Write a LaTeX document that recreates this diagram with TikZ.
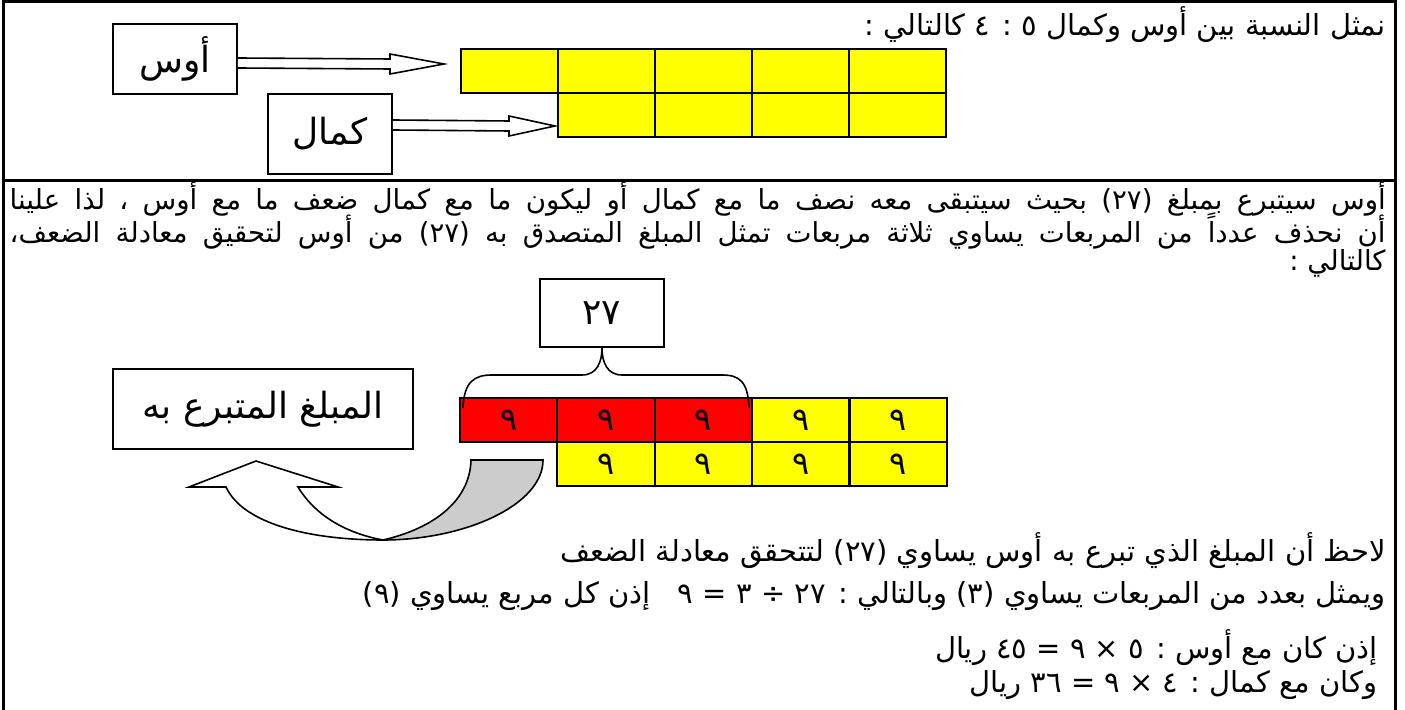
\documentclass[tikz,border=0pt]{standalone}
\usepackage{fontspec}
\usetikzlibrary{calc}
\newfontfamily\arabicfont[Script=Arabic]{DejaVu Sans}
\TeXXeTstate=1
\definecolor{cellyellow}{HTML}{FFFF00}
\definecolor{cellred}{HTML}{FF0000}
\definecolor{bandgray}{HTML}{CCCCCC}
\newcommand{\artxt}[1]{\beginR #1\endR}
% hollow block arrow: start, tip, head length
\newcommand{\hollowarrow}[3]{%
  \draw[hollow] ($(#1)+(0,-5)$) -- ($(#2)+(-#3,-5)$) -- ($(#2)+(-#3,-10)$) -- (#2)
    -- ($(#2)+(-#3,10)$) -- ($(#2)+(-#3,5)$) -- ($(#1)+(0,5)$);}

\begin{document}
\begin{tikzpicture}[x=0.5pt, y=-0.5pt,
    artext/.style={anchor=east, inner sep=0pt, font=\arabicfont\fontsize{14.5}{16}\selectfont},
    paratext/.style={artext, font=\arabicfont\fontsize{13.8}{15}\selectfont},
    namebox/.style={draw, line width=0.8pt, inner sep=0pt, fill=white, font=\arabicfont\fontsize{18}{22}\selectfont},
    cell/.style={draw, line width=1pt, fill=cellyellow, anchor=north west, inner sep=0pt,
      minimum width=48.6pt, minimum height=22pt, font=\arabicfont\fontsize{16}{18}\selectfont},
    frame/.style={line width=1.5pt},
    hollow/.style={draw, fill=white, line width=0.8pt}]

    \useasboundingbox (0,0) rectangle (1405,710);

    % Frame
    \draw[frame] (3,710) -- (3,2) -- (1395,2) -- (1395,710);
    \draw[frame] (3,181) -- (1395,181);

    % Ratio 5 : 4
    \node[artext] (ratio) at (1386,25) {\artxt{نمثل النسبة بين أوس وكمال ٥ : ٤ كالتالي :}};
    \node[namebox, minimum width=62pt, minimum height=35pt] (aws) at (175,59) {\artxt{أوس}};
    \node[namebox, minimum width=62pt, minimum height=40pt] (kamal) at (330,134) {\artxt{كمال}};

    \foreach \i in {0,...,4}
        \node[cell] (t\i) at (460+97*\i,48) {};
    \foreach \i in {1,...,4}
        \node[cell] (k\i) at (460+97*\i,92) {};

    \coordinate (a1s) at ($(aws.east)+(0,4)$);
    \coordinate (a1t) at ($(t0.west)+(-16,-7)$);
    \hollowarrow{a1s}{a1t}{54}
    \coordinate (a2s) at ($(kamal.east)+(0,-9)$);
    \coordinate (a2t) at ($(k1.west)+(-2,11)$);
    \hollowarrow{a2s}{a2t}{46}

    % Explanation
    \node[paratext] (line1) at (1386,199) {\makebox[688pt][s]{\artxt{أوس سيتبرع بمبلغ (٢٧) بحيث سيتبقى معه نصف ما مع كمال أو ليكون ما مع كمال ضعف ما مع أوس  ، لذا علينا}}};
    \node[paratext] (line2) at (1386,231) {\makebox[688pt][s]{\artxt{أن نحذف عدداً من المربعات يساوي ثلاثة مربعات تمثل المبلغ المتصدق به (٢٧) من أوس لتحقيق معادلة الضعف،}}};
    \node[paratext] (line3) at (1386,263) {\artxt{كالتالي :}};

    \node[namebox, minimum width=62pt, minimum height=34pt] (sum) at (602,313) {\artxt{٢٧}};

    % Squares after the donation
    \foreach \i/\c in {0/cellred,1/cellred,2/cellred,3/cellyellow,4/cellyellow}
        \node[cell, fill=\c] (aw\i) at (459+97.4*\i,397) {٩};
    \foreach \i in {1,...,4}
        \node[cell] (km\i) at (459+97.4*\i,441) {٩};

    % Brace
    \draw[line width=0.8pt] (463,408) .. controls (464,381) and (475,375) .. (492,375) -- (582,375)
        .. controls (597,375) and (602,362) .. (sum.south)
        .. controls (602,362) and (607,375) .. (622,375) -- (722,375)
        .. controls (739,375) and (748,381) .. (749,408);

    \node[namebox, minimum width=150pt, minimum height=40pt] (gift) at (263,409) {\artxt{المبلغ المتبرع به}};

    % Curved arrow
    \draw[fill=bandgray, line width=0.8pt] (471,460) -- (543,460) .. controls (543,505) and (465,540) .. (383,540)
        .. controls (435,528) and (470,500) .. (471,460) -- cycle;
    \draw[hollow] (226,487) -- (189,487) -- (256,461) -- (338,487) -- (298,487)
        .. controls (315,515) and (345,533) .. (383,540)
        .. controls (310,540) and (243,524) .. (226,487) -- cycle;

    % Result
    \node[artext] (note1) at (1386,551) {\artxt{لاحظ أن المبلغ الذي تبرع به أوس يساوي (٢٧) لتتحقق معادلة الضعف}};
    \node[artext] (note2) at (1386,596) {\artxt{ويمثل بعدد من المربعات يساوي (٣) وبالتالي : ٢٧ ÷ ٣ = ٩ \ \ إذن كل مربع يساوي (٩)}};
    \node[artext] (res1) at (1378,648) {\artxt{إذن كان مع أوس : ٥ × ٩ = ٤٥ ريال}};
    \node[artext] (res2) at (1378,685) {\artxt{وكان مع كمال : ٤ × ٩ = ٣٦ ريال}};
\end{tikzpicture}
\end{document}
